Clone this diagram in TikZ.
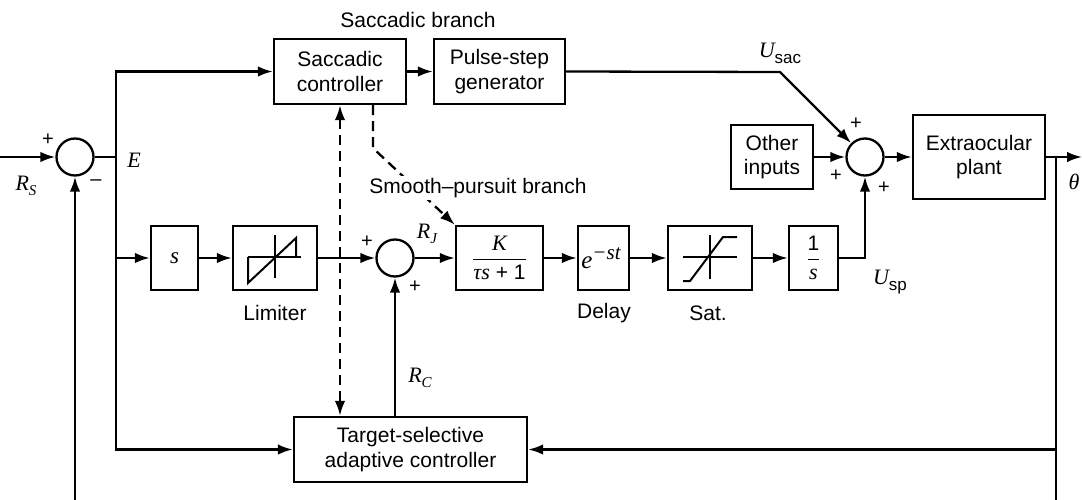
\documentclass[tikz,border=0pt]{standalone}
\usepackage{amsmath}
\usepackage{fontspec}
\setmainfont{Liberation Sans}
\newfontfamily\mif{Liberation Serif}
\usetikzlibrary{arrows.meta}
\newcommand{\vi}[2][22]{{\fontsize{#1}{#1}\selectfont\mif\itshape #2}}
\newcommand{\subtx}[1]{\raisebox{-6pt}{\fontsize{17}{19}\selectfont #1}}
\newcommand{\subvi}[1]{\raisebox{-5pt}{\vi[15]{#1}}}
\begin{document}
\begin{tikzpicture}[x=1pt,y=-1pt,line width=2.3pt,
  font=\fontsize{21}{24.5}\selectfont,
  >={Latex[length=15pt,width=10.5pt]},
  blk/.style={draw,inner sep=0pt,align=center,minimum height=64pt},
  sumc/.style={circle,draw,inner sep=0pt,minimum size=37pt},
  sgn/.style={font=\fontsize{20}{22}\selectfont,inner sep=0pt},
  lbl/.style={inner sep=0pt},
  dsh/.style={dash pattern=on 10pt off 6pt}]
\useasboundingbox (0,0) rectangle (1082,500);
% blocks
\node[blk,minimum width=132pt,minimum height=65pt] (sc) at (340,71.5) {Saccadic\\controller};
\node[blk,minimum width=131pt,minimum height=65pt] (psg) at (499.5,71.5) {Pulse-step\\generator};
\node[blk,minimum width=82pt] (oi) at (772,157) {Other\\inputs};
\node[blk,minimum width=132pt,minimum height=84pt] (ep) at (979,157) {Extraocular\\plant};
\node[blk,minimum width=47pt] (sb) at (174.5,258) {\vi[23]{s}};
\node[blk,minimum width=84pt] (lim) at (275,258) {};
\node[blk,minimum width=87pt] (kb) at (499.5,258) {$\genfrac{}{}{1.2pt}{0}{\mbox{\vi{K}}}{\mbox{\vi{τs} + 1}}$};
\node[blk,minimum width=51pt] (dl) at (603.5,258) {\hspace*{-5pt}\vi[25]{e}\raisebox{9pt}{\vi[21]{−st}}};
\node[blk,minimum width=84pt] (sat) at (710,258) {};
\node[blk,minimum width=49pt] (inv) at (813.5,258) {$\genfrac{}{}{1.2pt}{0}{\mbox{1}}{\mbox{\vi{s}}}$};
\node[blk,minimum width=233pt,minimum height=65pt] (ts) at (410.5,449.5) {Target-selective\\adaptive controller};
% summers
\node[sumc] (s1) at (75,157) {};
\node[sumc] (s2) at (865,157) {};
\node[sumc] (s3) at (395,258) {};
% limiter symbol
\begin{scope}[shift={(lim.center)},line width=2pt]
  \draw (-27,-1) -- (26,-1);
  \draw (0,-23) -- (0,20);
  \draw (-27,-1) -- (-27,25) -- (21,-20) -- (21,-1);
\end{scope}
% saturation symbol
\begin{scope}[shift={(sat.center)},line width=2pt]
  \draw (-27,-1) -- (27,-1);
  \draw (0,-23) -- (0,21);
  \draw (-27,23) -- (-20,23) -- (13,-21) -- (27,-21);
\end{scope}
% coordinates
\coordinate (rin) at (0,157);
\coordinate (jE) at (116,157);
\coordinate (bend) at (780,72);
\coordinate (out) at (1082,157);
\coordinate (jT) at (1056,157);
\coordinate (bR) at (1056,500);
\coordinate (bL) at (75,500);
% connectors
\draw[->] (rin) -- (s1.west);
\draw (s1.east) -- (jE);
\draw[->] (jE) |- (sc.west);
\draw[->] (jE) |- (sb.west);
\draw[->] (jE) |- (ts.west);
\draw[->] (bL) -- (s1.south);
\draw[->] (sc.east) -- (psg.west);
\draw[->] (psg.east) -- (bend) -- (s2.north west);
\draw[->] (oi.east) -- (s2.west);
\draw[->] (s2.east) -- (ep.west);
\draw[->] (ep.east) -- (out);
\draw (jT) -- (bR);
\draw[->] (jT |- ts.east) -- (ts.east);
\draw[->] (sb.east) -- (lim.west);
\draw[->] (lim.east) -- (s3.west);
\draw[->] (s3.east) -- (kb.west);
\draw[->] (kb.east) -- (dl.west);
\draw[->] (dl.east) -- (sat.west);
\draw[->] (sat.east) -- (inv.west);
\draw[->] (inv.east) -| (s2.south);
\draw[->] (s3 |- ts.north) -- (s3.south);
\draw[dsh,<->] (sc.south) -- (sc.south |- ts.north);
\draw[dsh,->] ([xshift=33pt]sc.south) -- ++(0,43) -- (kb.north west);
% labels
\node[lbl] (tsb) at (418,20) {Saccadic branch};
\node[lbl,fill=white,inner sep=2pt] (tsp) at (478,188) {Smooth--pursuit branch};
\node[lbl] (tl) at (275,313) {Limiter};
\node[lbl] (td) at (604,313) {Delay};
\node[lbl] (tst) at (708,313) {Sat.};
\node[sgn] (p1) at (48,140) {+};
\node[sgn] (m1) at (96,183) {--};
\node[lbl] (lrs) at (26,186) {\vi{R}\subvi{S}};
\node[lbl] (le) at (134,160) {\vi{E}};
\node[sgn] (p3a) at (367,242) {+};
\node[sgn] (p3b) at (415,287) {+};
\node[lbl] (lrj) at (427,234) {\vi{R}\subvi{J}};
\node[lbl] (lrc) at (420,378) {\vi{R}\subvi{C}};
\node[lbl] (lus) at (780,53) {\vi{U}\subtx{sac}};
\node[lbl] (lup) at (890,282) {\vi{U}\subtx{sp}};
\node[sgn] (p2a) at (856,124) {+};
\node[sgn] (p2b) at (836,176) {+};
\node[sgn] (p2c) at (884,188) {+};
\node[lbl] (lth) at (1074,182) {\vi{θ}};
\end{tikzpicture}
\end{document}
